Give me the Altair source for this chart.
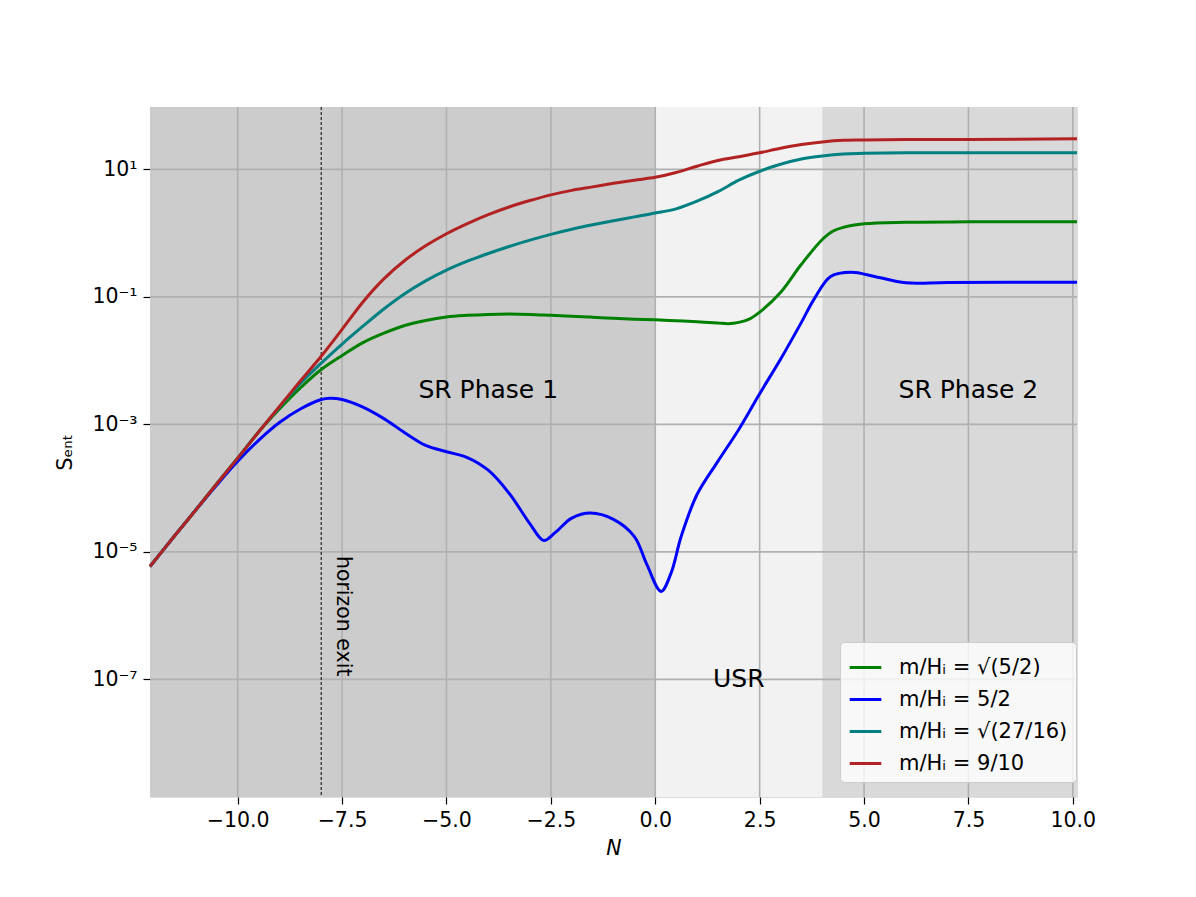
import altair as alt
import pandas as pd

# ---- data ----
labels = ["m/Hᵢ = √(5/2)", "m/Hᵢ = 5/2", "m/Hᵢ = √(27/16)", "m/Hᵢ = 9/10"]
colors = ["#008000", "#0000ff", "#008080", "#b22222"]

red_N = [-12.1, -11.5, -11, -10.5, -10, -9.5, -9, -8.5, -8, -7.5, -7, -6.5, -6, -5.5, -5, -4.5, -4, -3.5,
         -3, -2.5, -2, -1.5, -1, -0.5, 0, 0.5, 1, 1.5, 2, 2.5, 3, 3.5, 4, 4.5, 5, 6, 7.5, 10.1]
red_S = [5.89e-6, 1.82e-5, 4.57e-5, 1.17e-4, 2.95e-4, 7.59e-4, 1.91e-3, 4.79e-3, 1.17e-2, 3.09e-2,
         8.32e-2, 0.191, 0.372, 0.631, 0.977, 1.41, 1.95, 2.57, 3.24, 3.98, 4.68, 5.31, 6.03, 6.76,
         7.50, 8.91, 11.2, 13.8, 15.8, 18.2, 21.4, 24.5, 26.9, 28.5, 28.8, 29.5, 29.5, 30.2]

teal_N = red_N
teal_S = [5.89e-6, 1.82e-5, 4.57e-5, 1.17e-4, 2.95e-4, 7.59e-4, 1.86e-3, 4.37e-3, 9.12e-3, 1.82e-2,
          3.47e-2, 6.46e-2, 0.112, 0.178, 0.263, 0.363, 0.479, 0.617, 0.776, 0.955, 1.148, 1.349,
          1.567, 1.795, 2.06, 2.40, 3.16, 4.47, 6.76, 9.33, 12.0, 14.5, 16.2, 17.4, 17.8, 18.2, 18.2, 18.2]

green_N = [-12.1, -11.5, -11, -10.5, -10, -9.5, -9, -8.5, -8, -7.5, -7, -6.5, -6, -5.5, -5, -4.5, -4,
           -3.5, -3, -2.5, -2, -1.5, -1, -0.5, 0, 0.5, 1, 1.5, 1.75, 2, 2.25, 2.5, 3, 3.5, 4, 4.25,
           4.5, 5, 6, 7.5, 10.1]
green_S = [5.89e-6, 1.82e-5, 4.57e-5, 1.17e-4, 2.95e-4, 7.59e-4, 1.74e-3, 3.72e-3, 7.24e-3, 1.20e-2,
           1.91e-2, 2.69e-2, 3.55e-2, 4.27e-2, 4.84e-2, 5.13e-2, 5.31e-2, 5.37e-2, 5.31e-2, 5.13e-2,
           4.95e-2, 4.79e-2, 4.62e-2, 4.47e-2, 4.37e-2, 4.22e-2, 4.07e-2, 3.89e-2, 3.80e-2, 3.98e-2,
           4.47e-2, 5.75e-2, 0.117, 0.324, 0.794, 1.07, 1.23, 1.40, 1.48, 1.50, 1.50]

blue_N = [-12.1, -11.5, -11, -10.5, -10, -9.5, -9, -8.5, -8, -7.8, -7.5, -7, -6.5, -6, -5.5, -5, -4.5,
          -4, -3.5, -3, -2.67, -2.4, -2, -1.55, -1, -0.5, -0.2, 0.14, 0.38, 0.62, 1, 1.5, 2, 2.5, 3,
          3.5, 3.8, 4.2, 4.7, 5.25, 6, 7, 10.1]
blue_S = [5.89e-6, 1.82e-5, 4.57e-5, 1.12e-4, 2.63e-4, 5.62e-4, 1.07e-3, 1.74e-3, 2.45e-3, 2.57e-3,
          2.45e-3, 1.86e-3, 1.23e-3, 7.41e-4, 4.68e-4, 3.72e-4, 3.02e-4, 1.91e-4, 8.32e-5, 2.75e-5,
          1.51e-5, 2.00e-5, 3.39e-5, 4.07e-5, 3.24e-5, 1.74e-5, 6.31e-6, 2.40e-6, 4.68e-6, 1.74e-5,
          7.94e-5, 2.63e-4, 8.32e-4, 3.02e-3, 1.05e-2, 3.98e-2, 9.12e-2, 0.209, 0.243, 0.209, 0.166,
          0.168, 0.170]

band_start = [-12.1, 0, 4]
band_end = [0, 4, 10.1]
band_color = ["#cccccc", "#f2f2f2", "#d9d9d9"]

x_ticks = [-10, -7.5, -5, -2.5, 0, 2.5, 5, 7.5, 10]
y_ticks = [10, 0.1, 1e-3, 1e-5, 1e-7]
horizon_N = [-8]

ann_text = ["SR Phase 1", "SR Phase 2", "USR"]
ann_N = [-4.0, 7.5, 2.0]
ann_S = [3.4e-3, 3.4e-3, 1e-7]

X_DOMAIN = [-12.1, 10.1]
Y_DOMAIN = [1.43e-9, 95]

# ---- tables ----
rows = []
for lab, Ns, Ss in zip(labels, [green_N, blue_N, teal_N, red_N], [green_S, blue_S, teal_S, red_S]):
    for n, s in zip(Ns, Ss):
        rows.append({"N": n, "S": s, "series": lab})
lines_df = pd.DataFrame(rows)
bands_df = pd.DataFrame({"N": band_start, "N2": band_end, "c": band_color})
xgrid_df = pd.DataFrame({"N": x_ticks})
ygrid_df = pd.DataFrame({"S": y_ticks})
hz_df = pd.DataFrame({"N": horizon_N})
ann_df = pd.DataFrame({"N": ann_N, "S": ann_S, "t": ann_text})
hz_text_df = pd.DataFrame({"N": [-7.48], "S": [9.8e-7], "t": ["horizon exit"]})

FONT = "DejaVu Sans"
xscale = alt.Scale(domain=X_DOMAIN, nice=False, zero=False)
yscale = alt.Scale(type="log", domain=Y_DOMAIN, nice=False)

ylabel_expr = ("datum.value > 1 ? '10¹' : datum.value > 0.01 ? '10⁻¹' : datum.value > 1e-4 ? '10⁻³' : "
               "datum.value > 1e-6 ? '10⁻⁵' : '10⁻⁷'")

xaxis = alt.Axis(values=x_ticks, grid=False, domain=False, tickSize=7, tickColor="black", tickWidth=1.2,
                 labelFontSize=20.5, labelFont=FONT, labelColor="black", labelPadding=6,
                 labelExpr="replace(format(datum.value, '.1f'), '-', '−')",
                 title="N", titleFontStyle="italic", titleFontWeight="normal", titleFontSize=20.5,
                 titleFont=FONT, titleColor="black", titlePadding=8, labelFlush=False)
yaxis = alt.Axis(values=y_ticks, grid=False, domain=False, tickSize=7, tickColor="black", tickWidth=1.2,
                 labelFontSize=20.5, labelFont=FONT, labelColor="black", labelPadding=6,
                 labelExpr=ylabel_expr, title="Sₑₙₜ", titleFontWeight="normal", titleFontSize=21,
                 titleFont=FONT, titleColor="black", titlePadding=16)

bands = alt.Chart(bands_df).mark_rect().encode(
    x=alt.X("N:Q", scale=xscale, axis=xaxis),
    x2="N2:Q",
    color=alt.Color("c:N", scale=None),
)

xgrid = alt.Chart(xgrid_df).mark_rule(color="#b0b0b0", strokeWidth=1.6).encode(
    x=alt.X("N:Q", scale=xscale, axis=xaxis))
ygrid = alt.Chart(ygrid_df).mark_rule(color="#b0b0b0", strokeWidth=1.6).encode(
    y=alt.Y("S:Q", scale=yscale, axis=yaxis))

hz = alt.Chart(hz_df).mark_rule(color="black", strokeWidth=1, strokeDash=[3, 2]).encode(
    x=alt.X("N:Q", scale=xscale, axis=xaxis))

lines = alt.Chart(lines_df).mark_line(strokeWidth=3, interpolate="catmull-rom").encode(
    x=alt.X("N:Q", scale=xscale, axis=xaxis),
    y=alt.Y("S:Q", scale=yscale, axis=yaxis),
    color=alt.Color("series:N", scale=alt.Scale(domain=labels, range=colors), sort=labels,
                    legend=alt.Legend(title=None, orient="none", legendX=690, legendY=535,
                                      symbolType="stroke", symbolSize=1000, symbolStrokeWidth=3,
                                      labelFontSize=21, labelFont=FONT, labelColor="black",
                                      rowPadding=4, padding=8, fillColor="rgba(255,255,255,0.8)",
                                      strokeColor="#cccccc", cornerRadius=4, labelOffset=16,
                                      labelLimit=400)),
    order=alt.Order("N:Q"),
)

ann = alt.Chart(ann_df).mark_text(fontSize=25, font=FONT, color="black").encode(
    x=alt.X("N:Q", scale=xscale, axis=xaxis),
    y=alt.Y("S:Q", scale=yscale, axis=yaxis),
    text="t:N",
)
hz_text = alt.Chart(hz_text_df).mark_text(fontSize=20.5, font=FONT, color="black", angle=90).encode(
    x=alt.X("N:Q", scale=xscale, axis=xaxis),
    y=alt.Y("S:Q", scale=yscale, axis=yaxis),
    text="t:N",
)

chart = alt.layer(bands, xgrid, ygrid, hz, lines, ann, hz_text).properties(
    width=927, height=690,
    autosize=alt.AutoSizeParams(type="none"),
    padding={"left": 142, "top": 99, "right": 111, "bottom": 92},
).configure_view(stroke="black", strokeWidth=1.2).configure(background="white")

chart.save("out.html", embed_options={"renderer": "svg", "actions": False})
